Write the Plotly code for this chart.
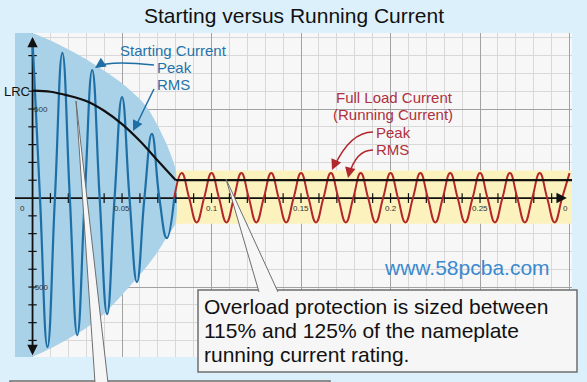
import plotly.graph_objects as go

# ---------------- data ----------------
period = 1 / 60  # 60 Hz supply
# starting (locked-rotor) current: successive peaks/troughs, one every half period from t=0
start_extrema = [888, -837, 815, -770, 719, -652, 567, -472, 360, -225]
# running (full load) current: peaks/troughs from t = 10 half-periods up to t = 0.3
run_extrema = [140, -137, 140, -137, 140, -137, 140, -137, 140, -137, 140, -137, 140, -137,
               140, -137, 140, -137, 140, -137, 140, -137, 140, -137, 140, -137, 140]
# RMS curve of the starting current
start_rms_t = [0, 0.01, 0.02, 0.03, 0.04, 0.05, 0.06, 0.07, 0.08]
start_rms_v = [603, 597, 575, 545, 490, 415, 320, 210, 100]
run_rms_v = 100
run_end_t = 0.3014
# envelope (shaded area) of the starting current
env_t = [-0.012, 0.0, 0.01, 0.02, 0.03, 0.04, 0.05, 0.06, 0.065, 0.07, 0.075, 0.08]
env_upper = [950, 925, 885, 835, 780, 715, 645, 555, 495, 405, 300, 155]
env_lower = [-910, -890, -845, -790, -730, -650, -545, -430, -370, -300, -220, -140]
# running-current band (overload window)
band_t = [0.08, 0.3014]
band_low, band_high = -145, 155
# axis labels
x_tick_vals = [0, 0.05, 0.1, 0.15, 0.2, 0.25, 0.298]
x_tick_text = ["0", "0.05", "0.1", "0.15", "0.2", "0.25", "0"]
y_tick_vals = [500, -500]
y_tick_text = ["500", "-500"]

# ---------------- styling / layout constants ----------------
W, H = 587, 382
ML, MR, MT, MB = 15, 15, 33, 25
PW, PH = W - ML - MR, H - MT - MB
XR = [-0.0098, 0.30137]
YR = [-893, 927]

BLUE = "#1d6fa6"
BLUE_TXT = "#1f73aa"
RED = "#b2262c"
RED_TXT = "#b0303e"
FONT = "Liberation Sans, Arial, sans-serif"


def fx(px):
    return (px - ML) / PW


def fy(py):
    return (MT + PH - py) / PH


# build wave point lists (extrema + zero crossings between them)
q = period / 4
blue_t, blue_v = [], []
for i, v in enumerate(start_extrema):
    blue_t += [2 * i * q, (2 * i + 1) * q]
    blue_v += [v, 0]
red_t, red_v = [19 * q], [0]
for j, v in enumerate(run_extrema):
    k = 20 + 2 * j
    if j > 0:
        red_t.append((k - 1) * q)
        red_v.append(0)
    red_t.append(k * q)
    red_v.append(v)

fig = go.Figure()

# band of running current
fig.add_trace(go.Scatter(
    x=[band_t[0], band_t[1], band_t[1], band_t[0], band_t[0]],
    y=[band_low, band_low, band_high, band_high, band_low],
    fill="toself", fillcolor="#fbf2bd", line=dict(width=0), mode="lines",
    hoverinfo="skip", showlegend=False))

# envelope of starting current
fig.add_trace(go.Scatter(
    x=env_t + env_t[::-1], y=env_upper + env_lower[::-1],
    fill="toself", fillcolor="#a9d1e8", line=dict(width=0, shape="spline", smoothing=0.6),
    mode="lines", hoverinfo="skip", showlegend=False))

# axes drawn on the data scale
fig.add_trace(go.Scatter(x=[XR[0], 0.294], y=[0, 0], mode="lines",
                         line=dict(color="#111", width=1.8), showlegend=False, hoverinfo="skip"))
fig.add_trace(go.Scatter(x=[0, 0], y=[-868, 890], mode="lines",
                         line=dict(color="#111", width=1.8), showlegend=False, hoverinfo="skip"))
xt = [i / 100 for i in range(1, 30)]
fig.add_trace(go.Scatter(x=xt, y=[0] * len(xt), mode="markers",
                         marker=dict(symbol="line-ns", size=7, line=dict(color="#111", width=1.2)),
                         showlegend=False, hoverinfo="skip"))
yt = [v for v in range(-800, 900, 100) if v != 0]
fig.add_trace(go.Scatter(x=[0] * len(yt), y=yt, mode="markers",
                         marker=dict(symbol="line-ew", size=6, line=dict(color="#111", width=1.2)),
                         showlegend=False, hoverinfo="skip"))

# waves
fig.add_trace(go.Scatter(x=blue_t, y=blue_v, mode="lines",
                         line=dict(color=BLUE, width=2.2, shape="spline", smoothing=1.3),
                         showlegend=False, hoverinfo="skip"))
fig.add_trace(go.Scatter(x=red_t, y=red_v, mode="lines",
                         line=dict(color=RED, width=2, shape="spline", smoothing=1.3),
                         showlegend=False, hoverinfo="skip"))
# RMS lines
fig.add_trace(go.Scatter(x=start_rms_t, y=start_rms_v, mode="lines",
                         line=dict(color="#111", width=2.2, shape="spline", smoothing=0.8),
                         showlegend=False, hoverinfo="skip"))
fig.add_trace(go.Scatter(x=[start_rms_t[-1], run_end_t], y=[run_rms_v, run_rms_v], mode="lines",
                         line=dict(color="#111", width=2.2), showlegend=False, hoverinfo="skip"))

ann = []
# tick labels
for v, t in zip(x_tick_vals, x_tick_text):
    ann.append(dict(x=v, y=0, xref="x", yref="y", text=t, showarrow=False,
                    xshift=-10 if v == 0 else 0, yshift=-10,
                    font=dict(size=8, color="#333", family=FONT)))
for v, t in zip(y_tick_vals, y_tick_text):
    ann.append(dict(x=0, y=v, xref="x", yref="y", text=t, showarrow=False, xshift=8,
                    font=dict(size=8, color="#333", family=FONT)))
# axis arrowheads
for (x, y, axo, ayo) in [(0.2985, 0, -8, 0), (0, 905, 0, 8), (0, -883, 0, -8)]:
    ann.append(dict(x=x, y=y, xref="x", yref="y", ax=axo, ay=ayo, text="", showarrow=True,
                    arrowhead=2, arrowsize=1.3, arrowwidth=1.6, arrowcolor="#111", standoff=0))


def txt(px, py, s, size, color, anchor="left"):
    ann.append(dict(x=fx(px), y=fy(py), xref="paper", yref="paper", text=s, showarrow=False,
                    xanchor=anchor, yanchor="middle", borderpad=0,
                    font=dict(size=size, color=color, family=FONT)))


txt(294, 16, "Starting versus Running Current", 21, "#111", "center")
txt(119, 50, "Starting Current", 15, BLUE_TXT)
txt(156, 67, "Peak", 15, BLUE_TXT)
txt(156, 84, "RMS", 15, BLUE_TXT)
txt(394, 97, "Full Load Current", 15, RED_TXT, "center")
txt(393, 114, "(Running Current)", 15, RED_TXT, "center")
txt(375, 132, "Peak", 15, RED_TXT)
txt(375, 149, "RMS", 15, RED_TXT)
txt(3, 91, "LRC", 13, "#111")
txt(383, 267, "www.58pcba.com", 21, "#3a8ad0")

shapes = []


def path(pts, color, width, fill=None, curve=False):
    if curve:
        (x0, y0), (cx, cy), (x1, y1) = pts
        d = f"M {fx(x0)},{fy(y0)} Q {fx(cx)},{fy(cy)} {fx(x1)},{fy(y1)}"
    else:
        d = "M " + " L ".join(f"{fx(a)},{fy(b)}" for a, b in pts)
    shapes.append(dict(type="path", path=d, xref="paper", yref="paper",
                       line=dict(color=color, width=width),
                       fillcolor=fill if fill else "rgba(0,0,0,0)"))


def arrowhead(px, py, dx, dy, color):
    ann.append(dict(x=fx(px), y=fy(py), xref="paper", yref="paper", ax=dx, ay=dy, text="",
                    showarrow=True, arrowhead=2, arrowsize=1.4, arrowwidth=1.5,
                    arrowcolor=color, standoff=0))


# curved pointer arrows
path([(154, 65), (108, 60), (97, 67)], BLUE, 1.5, curve=True)
arrowhead(95, 68, 6, -4, BLUE)
path([(154, 89), (146, 105), (135, 128)], BLUE, 1.5, curve=True)
arrowhead(133, 131, 4, -8, BLUE)
path([(373, 132), (350, 132), (334, 167)], RED, 1.5, curve=True)
arrowhead(332, 170, 4, -9, RED)
path([(373, 150), (356, 150), (349, 175)], RED, 1.5, curve=True)
arrowhead(348, 178, 2, -9, RED)

# callout boxes and wedges
shapes.append(dict(type="rect", xref="paper", yref="paper", x0=fx(198), x1=fx(577),
                   y0=fy(372), y1=fy(290), fillcolor="#f6f6f6", line=dict(color="#6e6e6e", width=1.5)))
path([(259, 292), (226, 179), (278, 292)], "#6e6e6e", 1, fill="#f6f6f6")
shapes.append(dict(type="rect", xref="paper", yref="paper", x0=fx(10), x1=fx(330),
                   y0=fy(400), y1=fy(381), fillcolor="#f6f6f6", line=dict(color="#6e6e6e", width=1.5)))
path([(95, 383), (76, 101), (108, 383)], "#6e6e6e", 1, fill="#f6f6f6")

txt(203, 306, "Overload protection is sized between", 21, "#111")
txt(203, 330, "115% and 125% of the nameplate", 21, "#111")
txt(203, 354, "running current rating.", 21, "#111")

fig.update_layout(
    width=W, height=H, margin=dict(l=ML, r=MR, t=MT, b=MB, pad=0),
    paper_bgcolor="#dcf0fb", plot_bgcolor="#f7f7f7",
    showlegend=False, annotations=ann, shapes=shapes,
    xaxis=dict(range=XR, showticklabels=False, ticks="", zeroline=False, showline=False,
               showgrid=True, tick0=0, dtick=0.05, gridcolor="#a2a2a2", gridwidth=1,
               minor=dict(tick0=0, dtick=0.01, showgrid=True, gridcolor="#d8d8d8", gridwidth=1)),
    yaxis=dict(range=YR, showticklabels=False, ticks="", zeroline=False, showline=False,
               showgrid=True, tick0=0, dtick=500, gridcolor="#a2a2a2", gridwidth=1,
               minor=dict(tick0=0, dtick=100, showgrid=True, gridcolor="#d8d8d8", gridwidth=1)),
)

fig.write_html("out.html", config={"displayModeBar": False},
               post_script="document.body.style.margin='0';document.body.style.overflow='hidden';")
